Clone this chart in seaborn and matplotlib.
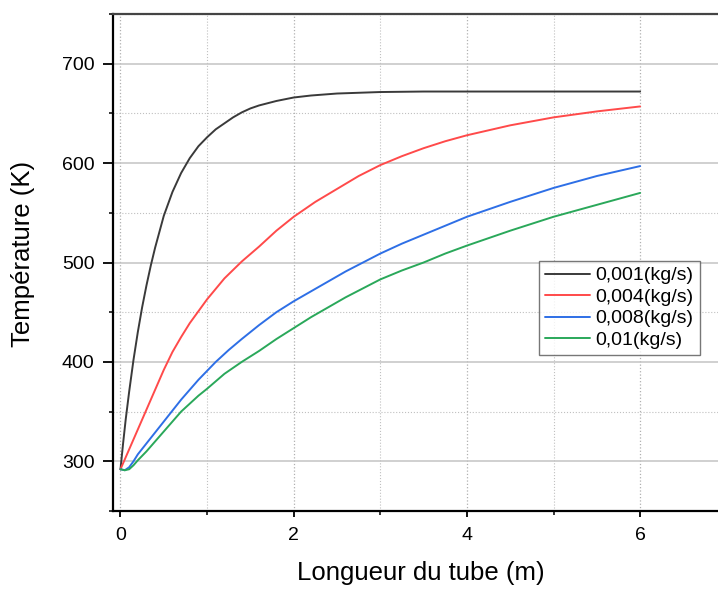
import numpy as np
import pandas as pd
import matplotlib
matplotlib.use("Agg")
import matplotlib.pyplot as plt
import seaborn as sns
from matplotlib.ticker import MultipleLocator

# data (length in m, temperature in K)
x_001 = [0, 0.03, 0.06, 0.1, 0.15, 0.2, 0.25, 0.3, 0.35, 0.4, 0.5, 0.6, 0.7, 0.8, 0.9,
         1.0, 1.1, 1.2, 1.3, 1.4, 1.5, 1.6, 1.8, 2.0, 2.2, 2.5, 3.0, 3.5, 4.0, 5.0, 6.0]
t_001 = [292, 318, 342, 370, 402, 430, 455, 477, 497, 515, 547, 571, 590, 605, 617,
         626, 634, 640, 646, 651, 655, 658, 662.5, 666, 668, 670, 671.5, 672, 672, 672, 672]

x_004 = [0, 0.05, 0.1, 0.2, 0.3, 0.4, 0.5, 0.6, 0.7, 0.8, 0.9, 1.0, 1.2, 1.4, 1.6, 1.8,
         2.0, 2.25, 2.5, 2.75, 3.0, 3.25, 3.5, 3.75, 4.0, 4.5, 5.0, 5.5, 6.0]
t_004 = [292, 302, 312, 332, 352, 372, 392, 410, 425, 439, 451, 463, 484, 501, 516, 532,
         546, 561, 574, 587, 598, 607, 615, 622, 628, 638, 646, 652, 657]

x_008 = [0, 0.05, 0.1, 0.15, 0.2, 0.3, 0.4, 0.5, 0.6, 0.7, 0.8, 0.9, 1.0, 1.1, 1.25, 1.4,
         1.6, 1.8, 2.0, 2.2, 2.4, 2.6, 2.8, 3.0, 3.25, 3.5, 3.75, 4.0, 4.5, 5.0, 5.5, 6.0]
t_008 = [292, 291, 294, 300, 307, 318, 329, 340, 351, 362, 372, 382, 391, 400, 412, 423,
         437, 450, 461, 471, 481, 491, 500, 509, 519, 528, 537, 546, 561, 575, 587, 597]

x_01 = [0, 0.05, 0.1, 0.15, 0.2, 0.3, 0.4, 0.5, 0.6, 0.7, 0.8, 0.9, 1.0, 1.2, 1.4, 1.6,
        1.8, 2.0, 2.2, 2.4, 2.6, 2.8, 3.0, 3.25, 3.5, 3.75, 4.0, 4.5, 5.0, 5.5, 6.0]
t_01 = [292, 291, 292, 296, 301, 310, 320, 330, 340, 350, 358, 366, 373, 388, 400, 411,
        423, 434, 445, 455, 465, 474, 483, 492, 500, 509, 517, 532, 546, 558, 570]

labels = ["0,001(kg/s)", "0,004(kg/s)", "0,008(kg/s)", "0,01(kg/s)"]
colors = ["#3a3a3a", "#ff4a4a", "#2e6fe6", "#2aa85a"]

frames = []
for lab, xs, ts in zip(labels, [x_001, x_004, x_008, x_01], [t_001, t_004, t_008, t_01]):
    frames.append(pd.DataFrame({"x": xs, "T": ts, "debit": lab}))
df = pd.concat(frames, ignore_index=True)

sns.set_theme(style="white")
plt.rcParams["font.family"] = ["Liberation Sans", "DejaVu Sans"]
plt.rcParams["text.color"] = "black"
plt.rcParams["axes.labelcolor"] = "black"
plt.rcParams["xtick.color"] = "black"
plt.rcParams["ytick.color"] = "black"

fig = plt.figure(figsize=(7.18, 5.89), dpi=100)
ax = fig.add_axes([112.7 / 718, 1 - 511 / 589, 622.7 / 718, 497 / 589])

sns.lineplot(data=df, x="x", y="T", hue="debit", hue_order=labels,
             palette=colors, linewidth=1.4, ax=ax, sort=False, estimator=None)

ax.set_xlim(-0.09, 7.1)
ax.set_ylim(250, 750)
ax.xaxis.set_major_locator(MultipleLocator(2))
ax.xaxis.set_minor_locator(MultipleLocator(1))
ax.yaxis.set_major_locator(MultipleLocator(100))
ax.yaxis.set_minor_locator(MultipleLocator(50))

ax.grid(True, which="major", color="#c4c4c4", linewidth=1.1, linestyle="-")
ax.grid(True, which="minor", color="#c0c0c0", linewidth=0.8, linestyle=":")
ax.xaxis.grid(True, which="major", color="#b0b0b0", linewidth=0.9, linestyle=":")

ax.tick_params(axis="x", which="major", direction="out", length=4.5, width=1.3, pad=7,
               color="black", labelcolor="black", labelsize=14, bottom=True, top=False)
ax.tick_params(axis="y", which="major", direction="out", length=7, width=1.3, pad=6,
               color="black", labelcolor="black", labelsize=14, left=True, right=False)
ax.tick_params(axis="both", which="minor", direction="out", length=3, width=1.1,
               color="black", bottom=True, left=True, top=False, right=False)

for side in ["left", "bottom"]:
    ax.spines[side].set_color("black")
    ax.spines[side].set_linewidth(1.6)
ax.spines["top"].set_color("#444444")
ax.spines["top"].set_linewidth(1.6)
ax.spines["right"].set_visible(False)

ax.set_xlabel("Longueur du tube (m)", fontsize=18.5, color="black")
ax.xaxis.set_label_coords(0.494, -0.101)
ax.set_ylabel("Température (K)", fontsize=18.5, color="black")
ax.yaxis.set_label_coords(-0.125, 0.517)

leg = ax.legend(loc="upper left", bbox_to_anchor=(0.685, 0.503), borderaxespad=0,
                fontsize=14, handlelength=2.3, handletextpad=0.3, labelspacing=0.2,
                borderpad=0.3, fancybox=False, frameon=True, title=None)
leg.get_frame().set_edgecolor("#555555")
leg.get_frame().set_linewidth(1.0)

fig.savefig("out.png", dpi=100)
